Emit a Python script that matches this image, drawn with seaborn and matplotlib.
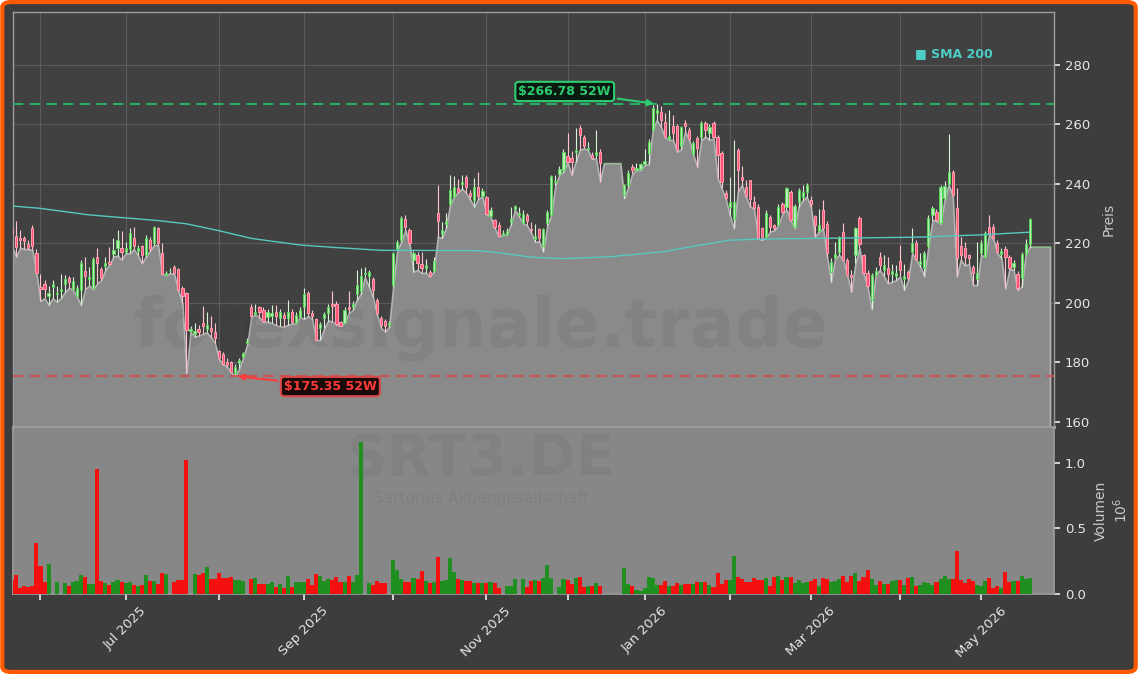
import numpy as np
import pandas as pd
import matplotlib
matplotlib.use('Agg')
import matplotlib.pyplot as plt
from matplotlib.patches import FancyBboxPatch
import seaborn as sns

sns.set_theme(style='dark', rc={'axes.facecolor': '#414141', 'figure.facecolor': '#3d3d3d'})
plt.rcParams['font.family'] = ['DejaVu Sans']

# Handelstage Xetra (ohne Boersenfeiertage)
holidays = ['2025-12-24', '2025-12-25', '2025-12-26', '2025-12-31',
            '2026-01-01', '2026-04-03', '2026-04-06', '2026-05-01']
dates = pd.bdate_range('2025-05-22', '2026-05-27', freq='C', holidays=holidays)

opens = [
    225.0, 222.5, 221.8, 221.7, 219.8, 225.0, 216.6, 205.4, 206.3, 202.1,
    205.2, 202.8, 204.0, 206.3, 208.2, 204.5, 202.1, 204.3, 210.5, 207.8,
    204.9, 215.3, 211.3, 212.4, 213.8, 216.4, 218.5, 218.5, 217.0, 218.0,
    221.7, 217.5, 218.9, 216.1, 221.1, 220.0, 225.0, 216.6, 209.3, 210.5,
    211.9, 211.3, 204.9, 203.2, 190.5, 189.5, 191.0, 193.0, 191.0, 191.5,
    190.0, 183.6, 182.8, 179.9, 179.9, 176.5, 179.8, 181.7, 186.5, 198.7,
    196.3, 198.7, 197.4, 195.3, 195.5, 197.0, 195.0, 196.0, 195.0, 197.0,
    193.1, 195.3, 198.7, 203.4, 196.6, 194.4, 191.4, 194.8, 196.5, 199.5,
    199.6, 193.4, 193.3, 198.5, 198.5, 203.0, 204.0, 209.5, 208.8, 207.9,
    200.9, 194.8, 193.8, 192.5, 205.8, 217.9, 221.1, 228.0, 224.4, 214.4,
    216.0, 213.0, 211.5, 210.4, 210.5, 230.3, 223.0, 226.5, 233.0, 235.6,
    238.4, 239.9, 242.1, 237.0, 234.5, 238.8, 235.9, 235.4, 229.1, 227.8,
    226.1, 222.8, 223.0, 227.0, 231.5, 229.5, 226.9, 229.5, 224.8, 221.5,
    224.7, 219.1, 226.7, 229.5, 240.5, 243.2, 244.6, 249.3, 248.5, 250.5,
    258.6, 255.8, 251.5, 249.7, 249.5, 250.8, 246.9, 246.9, 246.9, 246.9,
    246.9, 236.2, 239.6, 245.5, 244.6, 244.8, 246.5, 250.2, 258.0, 263.7,
    264.2, 260.9, 255.0, 259.5, 259.4, 252.5, 260.3, 258.0, 250.0, 255.3,
    255.8, 260.3, 257.0, 260.5, 255.8, 250.2, 236.8, 232.0, 228.0, 251.3,
    242.4, 239.0, 241.2, 234.0, 232.0, 225.0, 222.2, 228.7, 226.0, 226.2,
    233.2, 232.0, 237.3, 225.6, 234.0, 235.6, 237.3, 234.5, 229.0, 224.0,
    231.0, 226.5, 210.4, 215.0, 217.2, 223.9, 214.4, 209.3, 216.0, 228.4,
    216.0, 210.1, 200.9, 209.3, 215.2, 211.0, 211.5, 209.5, 209.0, 214.0,
    208.0, 210.4, 217.2, 220.0, 213.0, 211.5, 219.0, 229.5, 230.6, 226.7,
    235.1, 239.8, 244.0, 231.7, 219.0, 218.5, 216.0, 212.0, 208.0, 216.6,
    215.5, 225.6, 225.3, 219.9, 216.4, 218.0, 215.5, 212.1, 209.6, 208.2,
    216.4, 219.7, 218.8, 218.8, 218.8, 218.8, 218.8,
]
highs = [
    227.5, 227.3, 224.5, 222.5, 221.0, 226.2, 218.0, 209.5, 207.5, 205.5,
    207.5, 205.5, 209.5, 209.3, 208.8, 208.5, 206.0, 214.5, 215.5, 212.0,
    215.2, 218.3, 212.0, 215.5, 218.6, 221.7, 224.5, 224.0, 220.5, 225.0,
    225.5, 219.5, 219.5, 222.8, 222.0, 225.8, 225.5, 220.0, 210.5, 211.5,
    212.5, 211.8, 205.5, 203.5, 192.0, 193.0, 192.5, 198.9, 197.0, 195.5,
    193.1, 184.0, 183.5, 181.5, 180.5, 179.5, 181.5, 183.5, 188.0, 199.5,
    199.5, 199.0, 198.5, 198.0, 199.2, 199.2, 198.0, 197.0, 201.0, 198.0,
    197.0, 198.5, 204.9, 204.0, 197.5, 195.0, 193.5, 197.0, 199.5, 203.8,
    200.5, 194.0, 198.5, 203.8, 200.5, 211.0, 211.5, 212.0, 211.0, 208.5,
    201.5, 195.5, 194.5, 194.0, 217.0, 221.0, 229.0, 229.5, 225.0, 217.5,
    217.0, 217.2, 214.8, 211.0, 215.5, 239.6, 227.0, 230.0, 242.9, 242.5,
    241.5, 242.9, 242.9, 238.0, 241.8, 244.0, 238.5, 236.0, 232.0, 228.0,
    227.0, 224.5, 225.0, 232.3, 232.8, 232.3, 231.2, 230.0, 227.2, 226.6,
    225.2, 225.0, 231.0, 243.0, 243.0, 246.0, 251.5, 256.9, 251.0, 258.8,
    259.8, 256.5, 254.0, 250.5, 258.0, 251.5, 246.9, 246.9, 246.9, 246.9,
    246.9, 240.0, 244.5, 246.5, 246.9, 247.0, 251.5, 255.0, 266.5, 266.78,
    266.0, 263.7, 264.7, 263.0, 260.0, 259.5, 261.5, 259.0, 254.5, 256.0,
    261.0, 261.0, 260.0, 261.0, 256.5, 251.0, 237.8, 242.4, 254.7, 251.9,
    246.0, 241.2, 241.3, 236.0, 233.0, 225.5, 231.0, 229.5, 226.5, 233.0,
    234.0, 239.0, 238.0, 233.0, 238.5, 239.6, 240.2, 236.0, 229.5, 231.5,
    234.5, 227.5, 215.0, 220.5, 222.5, 226.7, 215.0, 211.0, 225.5, 229.0,
    216.5, 211.0, 210.0, 212.0, 217.2, 216.0, 215.5, 213.0, 212.5, 219.3,
    213.0, 211.0, 225.0, 221.0, 216.6, 217.5, 229.5, 232.5, 231.5, 239.5,
    241.0, 256.7, 244.5, 238.4, 222.2, 220.5, 216.5, 212.5, 220.5, 221.0,
    224.0, 229.5, 226.5, 221.0, 218.5, 219.0, 216.0, 214.5, 210.5, 217.0,
    221.5, 228.5, 218.8, 218.8, 218.8, 218.8, 218.8,
]
lows = [
    218.8, 215.5, 218.5, 218.0, 218.0, 217.7, 209.9, 200.5, 201.5, 199.3,
    201.5, 200.3, 201.5, 203.5, 205.0, 204.3, 202.0, 199.2, 204.5, 205.8,
    204.5, 206.5, 207.6, 211.0, 212.8, 215.5, 215.8, 214.5, 216.6, 216.6,
    218.0, 216.0, 213.2, 215.5, 217.5, 219.3, 219.4, 209.6, 209.2, 209.9,
    209.5, 204.0, 199.8, 176.5, 190.0, 188.6, 188.9, 189.5, 190.0, 188.5,
    186.5, 181.0, 179.3, 178.5, 176.6, 175.35, 177.9, 181.5, 186.0, 195.3,
    196.0, 195.0, 193.6, 193.6, 193.2, 192.5, 192.0, 192.0, 192.5, 193.0,
    193.0, 195.2, 194.5, 195.5, 194.5, 187.4, 187.5, 191.5, 194.0, 193.6,
    192.5, 192.2, 193.2, 196.5, 197.5, 200.9, 203.0, 208.5, 205.4, 202.0,
    196.0, 191.5, 190.3, 191.9, 205.4, 217.7, 220.5, 224.4, 219.8, 210.4,
    211.0, 209.9, 210.1, 208.8, 210.4, 222.2, 221.7, 225.0, 232.8, 235.5,
    237.2, 238.3, 236.8, 234.5, 232.3, 235.0, 235.6, 229.7, 229.0, 225.2,
    222.3, 222.7, 222.9, 226.1, 231.2, 229.0, 226.7, 226.0, 223.5, 220.5,
    220.5, 217.2, 226.1, 229.4, 239.6, 243.0, 244.0, 247.3, 243.0, 247.4,
    251.3, 251.9, 251.3, 248.4, 248.5, 240.7, 246.9, 246.9, 246.9, 246.9,
    246.9, 235.1, 239.0, 243.5, 244.5, 244.6, 246.3, 246.5, 257.8, 261.4,
    259.2, 255.6, 254.7, 254.7, 250.8, 251.5, 257.5, 254.7, 249.7, 245.7,
    254.7, 255.8, 254.7, 255.2, 242.0, 238.4, 235.0, 229.5, 225.0, 237.3,
    239.6, 235.6, 232.3, 231.6, 221.5, 221.1, 222.0, 223.9, 224.3, 226.1,
    230.0, 231.2, 227.7, 225.0, 232.3, 234.5, 235.6, 232.3, 222.2, 223.9,
    224.9, 215.5, 207.1, 214.9, 216.0, 214.3, 209.2, 203.7, 213.2, 218.3,
    209.8, 205.4, 197.8, 209.2, 211.0, 209.0, 206.5, 207.0, 207.5, 208.8,
    204.3, 207.6, 216.6, 214.4, 212.1, 208.8, 218.8, 227.8, 227.5, 226.6,
    234.5, 239.6, 236.0, 208.8, 214.4, 212.5, 213.0, 205.9, 205.9, 216.0,
    215.4, 222.8, 221.5, 216.6, 215.0, 204.8, 211.4, 211.0, 204.3, 205.4,
    216.0, 218.8, 218.8, 218.8, 218.8, 218.8, 218.8,
]
closes = [
    223.4, 218.6, 221.2, 220.8, 218.3, 219.1, 210.1, 204.5, 204.5, 203.2,
    206.3, 203.4, 204.5, 207.9, 207.1, 207.4, 204.9, 213.3, 208.8, 208.6,
    214.6, 213.3, 208.2, 213.2, 213.0, 217.7, 221.0, 217.0, 218.5, 223.4,
    218.9, 218.3, 216.1, 221.7, 217.9, 225.3, 220.0, 209.7, 210.1, 210.8,
    210.1, 204.3, 202.1, 190.9, 191.0, 190.5, 190.0, 192.0, 192.5, 190.5,
    188.0, 181.3, 179.4, 179.1, 176.8, 178.5, 180.6, 183.0, 187.0, 195.6,
    197.0, 197.0, 193.7, 197.0, 196.5, 195.5, 197.0, 195.0, 197.0, 193.5,
    195.9, 197.4, 203.0, 196.5, 195.5, 187.5, 192.9, 196.2, 198.7, 199.0,
    192.9, 192.3, 197.6, 198.0, 199.5, 206.0, 209.0, 210.0, 210.4, 204.3,
    196.4, 192.5, 192.0, 193.0, 216.6, 220.5, 228.4, 225.3, 220.0, 216.6,
    213.5, 211.5, 212.5, 209.1, 214.0, 227.6, 224.5, 227.5, 237.9, 239.0,
    237.3, 240.7, 239.0, 235.9, 239.0, 235.9, 237.7, 229.8, 231.2, 225.3,
    222.4, 223.5, 224.0, 228.0, 232.5, 230.0, 229.8, 227.6, 224.4, 222.5,
    221.6, 224.7, 230.6, 242.6, 241.0, 244.8, 250.5, 247.4, 247.4, 251.3,
    256.4, 252.5, 252.0, 248.5, 250.8, 246.9, 246.9, 246.9, 246.9, 246.9,
    246.9, 239.6, 243.5, 244.6, 245.2, 246.6, 247.5, 254.1, 265.5, 264.8,
    261.4, 255.8, 256.0, 257.0, 251.3, 259.2, 259.4, 255.0, 253.8, 251.9,
    260.5, 258.1, 259.0, 255.8, 249.7, 240.7, 235.1, 234.0, 234.0, 244.6,
    241.2, 236.0, 235.0, 231.7, 221.6, 222.0, 230.3, 225.3, 225.0, 232.3,
    230.6, 238.4, 227.8, 232.5, 237.9, 237.3, 239.6, 233.0, 226.0, 226.0,
    225.0, 216.6, 213.8, 216.5, 222.0, 214.4, 209.3, 208.5, 225.0, 219.7,
    209.9, 205.6, 209.3, 210.8, 212.7, 212.5, 209.5, 210.5, 210.0, 211.0,
    209.0, 208.2, 220.2, 214.6, 214.0, 216.6, 228.4, 231.7, 227.8, 238.8,
    239.2, 244.0, 236.2, 214.9, 216.0, 215.5, 215.0, 210.0, 210.0, 219.9,
    223.5, 223.3, 221.6, 217.2, 217.4, 215.5, 211.5, 213.5, 204.8, 216.4,
    219.7, 228.1, 218.8, 218.8, 218.8, 218.8, 218.8,
]
# Volumen in Mio. Stueck
volumes = [
    0.107, 0.145, 0.048, 0.060, 0.056, 0.060, 0.386, 0.213, 0.089, 0.228,
    0.000, 0.089, 0.000, 0.081, 0.061, 0.089, 0.099, 0.145, 0.130, 0.076,
    0.076, 0.952, 0.099, 0.081, 0.069, 0.089, 0.107, 0.089, 0.081, 0.089,
    0.069, 0.061, 0.069, 0.145, 0.099, 0.099, 0.076, 0.160, 0.152, 0.000,
    0.094, 0.107, 0.107, 1.020, 0.000, 0.152, 0.145, 0.160, 0.206, 0.114,
    0.114, 0.160, 0.119, 0.122, 0.130, 0.107, 0.107, 0.099, 0.000, 0.114,
    0.122, 0.076, 0.076, 0.076, 0.089, 0.056, 0.076, 0.048, 0.137, 0.056,
    0.089, 0.089, 0.089, 0.114, 0.069, 0.152, 0.137, 0.099, 0.114, 0.107,
    0.130, 0.089, 0.089, 0.137, 0.089, 0.145, 1.153, 0.000, 0.081, 0.069,
    0.099, 0.086, 0.086, 0.000, 0.259, 0.183, 0.114, 0.091, 0.091, 0.122,
    0.114, 0.175, 0.099, 0.086, 0.091, 0.284, 0.099, 0.107, 0.274, 0.168,
    0.114, 0.107, 0.099, 0.099, 0.086, 0.081, 0.081, 0.081, 0.091, 0.081,
    0.048, 0.000, 0.061, 0.061, 0.114, 0.000, 0.114, 0.056, 0.099, 0.107,
    0.099, 0.122, 0.221, 0.122, 0.000, 0.056, 0.114, 0.107, 0.076, 0.122,
    0.130, 0.056, 0.061, 0.061, 0.086, 0.061, 0.000, 0.000, 0.000, 0.000,
    0.000, 0.198, 0.076, 0.061, 0.030, 0.025, 0.043, 0.130, 0.122, 0.069,
    0.069, 0.099, 0.061, 0.061, 0.086, 0.069, 0.076, 0.076, 0.076, 0.091,
    0.091, 0.091, 0.069, 0.056, 0.160, 0.076, 0.107, 0.107, 0.289, 0.130,
    0.114, 0.091, 0.091, 0.122, 0.107, 0.107, 0.122, 0.061, 0.130, 0.137,
    0.107, 0.130, 0.130, 0.081, 0.107, 0.086, 0.091, 0.099, 0.114, 0.061,
    0.122, 0.114, 0.091, 0.099, 0.114, 0.137, 0.091, 0.137, 0.160, 0.099,
    0.130, 0.183, 0.114, 0.069, 0.099, 0.076, 0.076, 0.099, 0.107, 0.107,
    0.069, 0.122, 0.130, 0.061, 0.069, 0.091, 0.081, 0.069, 0.091, 0.114,
    0.137, 0.114, 0.114, 0.328, 0.107, 0.084, 0.114, 0.099, 0.069, 0.061,
    0.099, 0.122, 0.048, 0.061, 0.048, 0.168, 0.091, 0.099, 0.099, 0.137,
    0.114, 0.122, 0.000, 0.000, 0.000, 0.000, 0.000,
]
# SMA 200 (Stuetzpunkte, Handelstag-Index -> Wert)
sma_idx = [0, 7, 19, 36, 43, 51, 59, 71, 79, 91, 115, 120, 128, 136, 148,
           161, 169, 177, 185, 198, 223, 239, 251]
sma_val = [232.5, 231.7, 229.5, 227.6, 226.5, 224.2, 221.6, 219.4, 218.6, 217.6,
           217.5, 216.8, 215.3, 214.8, 215.5, 217.2, 219.2, 221.0, 221.4, 221.6,
           222.0, 222.8, 223.7]

high_52w = 266.78
low_52w = 175.35
ticker = 'SRT3.DE'
company = 'Sartorius Aktiengesellschaft'

df = pd.DataFrame({'Open': opens, 'High': highs, 'Low': lows,
                   'Close': closes, 'Volume': volumes}, index=dates)
x = np.arange(len(df))
up = df['Close'] >= df['Open']

fig = plt.figure(figsize=(11.38, 6.74), dpi=100)
fig.patch.set_facecolor('white')
fig.patches.append(FancyBboxPatch((0.002, 0.003), 0.996, 0.994,
                                  boxstyle='round,pad=0,rounding_size=0.008',
                                  transform=fig.transFigure, fc='#3d3d3d',
                                  ec='#ff5a00', lw=3, zorder=-10))

ax = fig.add_axes([0.011, 0.366, 0.9156, 0.6166])
axv = fig.add_axes([0.011, 0.1187, 0.9156, 0.2473], sharex=ax)

# Preis-Panel
ax.set_facecolor('#414141')
ax.set_axisbelow(True)
ax.grid(True, color='#5c5c5c', lw=0.8)
ax.fill_between(x, df['Low'], 150, facecolor='#8a8a8a', edgecolor='#b4b4b4',
                lw=1.2, zorder=1)

ax.text(0.45, 0.24, 'forexsignale.trade', transform=ax.transAxes, fontsize=48,
        fontweight='bold', color='#2a2a2a', alpha=0.08, ha='center', va='center', zorder=2)

wick_cols = np.where(up, '#d6f3d6', '#ffc4cf')
ax.vlines(x, df['Low'], df['High'], colors=wick_cols, lw=0.8, zorder=3)
ax.bar(x, (df['Close'] - df['Open']).abs(), bottom=df[['Open', 'Close']].min(axis=1),
       width=0.55, color=np.where(up, '#b8ecb8', '#ff5577'),
       edgecolor=np.where(up, '#55d455', '#ff9fb0'), lw=0.7, zorder=4)

sns.lineplot(x=sma_idx, y=sma_val, ax=ax, color='#55c8c0', lw=1.0, zorder=5)

ax.axhline(high_52w, color='#27ae60', ls=(0, (5, 3)), lw=1.5, zorder=5)
ax.axhline(low_52w, color='#d94848', ls=(0, (5, 3)), lw=1.5, alpha=0.85, zorder=5)

i_hi = int(np.argmax(df['High']))
i_lo = int(np.argmin(df['Low']))
ax.annotate(r'\$%.2f 52W' % high_52w, xy=(i_hi, high_52w), xytext=(136.3, 271.0),
            ha='center', va='center', color='#2ecc71', fontsize=9, fontweight='bold',
            bbox=dict(boxstyle='round,pad=0.25', fc='#0b1a10', ec='#2ecc71', lw=1.5),
            arrowprops=dict(arrowstyle='-|>', color='#2ecc71', lw=1.5), zorder=6)
ax.annotate(r'\$%.2f 52W' % low_52w, xy=(i_lo, low_52w), xytext=(78.5, 171.8),
            ha='center', va='center', color='#ff3b3b', fontsize=9, fontweight='bold',
            bbox=dict(boxstyle='round,pad=0.25', fc='#1a0b0b', ec='#d94848', lw=1.5),
            arrowprops=dict(arrowstyle='-|>', color='#ff3b3b', lw=1.5), zorder=6)

ax.text(0.866, 0.90, '■ SMA 200', transform=ax.transAxes, color='#4ecdc4',
        fontsize=9, fontweight='bold', ha='left', va='center')

ax.set_ylim(158.1, 297.8)
ax.set_yticks([160, 180, 200, 220, 240, 260, 280])
ax.yaxis.tick_right()
ax.yaxis.set_label_position('right')
ax.set_ylabel('Preis', color='#c8c8c8', fontsize=10, labelpad=8)
ax.tick_params(axis='y', colors='#e6e6e6', labelsize=9.5, length=4, direction='out')
ax.tick_params(axis='x', bottom=False, labelbottom=False)
for s in ax.spines.values():
    s.set_color('#9c9c9c')
    s.set_linewidth(1)
ax.spines['bottom'].set_color('#b8b8b8')
ax.spines['bottom'].set_linewidth(2)

# Volumen-Panel
axv.set_facecolor('#878787')
axv.bar(x, df['Volume'], width=1.0, color=np.where(up, '#1f8f1f', '#f51010'), lw=0, zorder=3)
axv.text(0.45, 0.80, ticker, transform=axv.transAxes, fontsize=41, fontweight='bold',
         color='#2a2a2a', alpha=0.06, ha='center', va='center', zorder=1)
axv.text(0.45, 0.575, company, transform=axv.transAxes, fontsize=11,
         color='#2a2a2a', alpha=0.08, ha='center', va='center', zorder=1)
axv.set_ylim(0, df['Volume'].max() * 1.1)
axv.set_yticks([0, 0.5, 1.0])
axv.set_yticklabels(['0.0', '0.5', '1.0'])
axv.yaxis.tick_right()
axv.yaxis.set_label_position('right')
axv.set_ylabel('Volumen\n$10^6$', color='#c8c8c8', fontsize=10, labelpad=6)
axv.tick_params(axis='y', colors='#e6e6e6', labelsize=9.5, length=4)
axv.grid(False)
for s in axv.spines.values():
    s.set_color('#9c9c9c')

# Monats-Ticks (erster Handelstag), Beschriftung jeden zweiten Monat
months = df.index.to_period('M')
first_pos = [i for i in range(1, len(df)) if months[i] != months[i - 1]]
labels = [df.index[i].strftime('%b %Y') if df.index[i].month % 2 == 1 else ''
          for i in first_pos]
axv.set_xticks(first_pos)
axv.set_xticklabels(labels, rotation=45, ha='center')
axv.tick_params(axis='x', colors='#e6e6e6', labelsize=9.5, length=4, direction='out',
                bottom=True)
axv.set_xlim(0.1, len(df) + 0.1)

fig.savefig('out.png', dpi=100, facecolor=fig.get_facecolor())
